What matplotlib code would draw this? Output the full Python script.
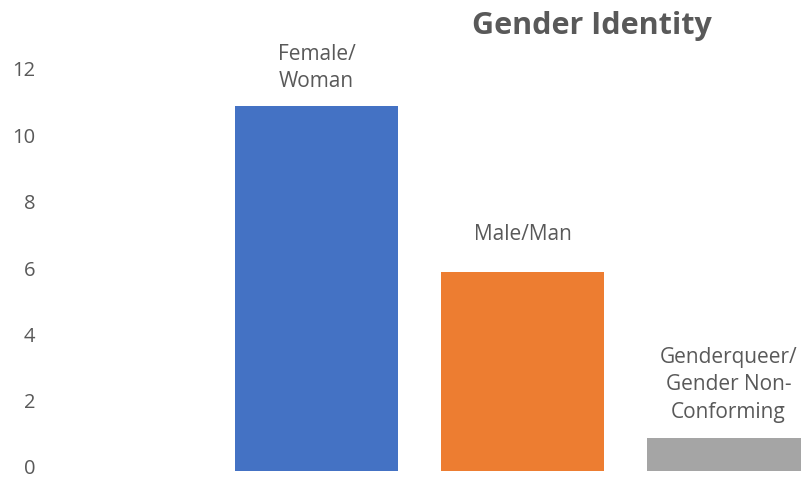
import matplotlib
matplotlib.use("Agg")
import matplotlib.pyplot as plt
from matplotlib.transforms import ScaledTranslation

categories = ["Female/\nWoman", "Male/Man", "Genderqueer/\nGender Non-\nConforming"]
values = [11, 6, 1]
colors = ["#4472C4", "#ED7D31", "#A5A5A5"]
yticks = [0, 2, 4, 6, 8, 10, 12]
title = "Gender Identity"
label_offsets_pt = [10, 19.5, 11]

plt.rcParams['font.family'] = ['Open Sans', 'DejaVu Sans']
W, H = 801, 478
fig = plt.figure(figsize=(W / 100, H / 100), dpi=100)

left_px, right_px = 213.5, 801
bottom_px, top_px = 471, 73
ax = fig.add_axes([left_px / W, (H - bottom_px) / H, (right_px - left_px) / W, (bottom_px - top_px) / H])
x = list(range(len(categories)))
ax.bar(x, values, width=0.79, color=colors)
ax.set_xlim(-0.5, 2.5 - (831.5 - 801) / 206)
ax.set_ylim(0, 12)
ax.set_yticks(yticks)
ax.set_yticklabels([str(t) for t in yticks])
ax.set_xticks([])
for s in ax.spines.values():
    s.set_visible(False)
ax.tick_params(axis='y', length=0, pad=(left_px - 35) * 0.72, labelsize=14.5, labelcolor="#595959")
shift = ScaledTranslation(0, 4 / 100, fig.dpi_scale_trans)
for lbl in ax.get_yticklabels():
    lbl.set_transform(lbl.get_transform() + shift)

for xi, v, lab, off in zip(x, values, categories, label_offsets_pt):
    ax.annotate(lab, (xi, v), xytext=(0, off), textcoords='offset points',
                ha='center', va='bottom', fontsize=15, color="#595959", linespacing=1.4)

fig.text(592 / W, 1 - 26 / H, title, ha='center', va='center', fontsize=22,
         fontweight='bold', color="#595959")

fig.savefig("out.png", dpi=100)
